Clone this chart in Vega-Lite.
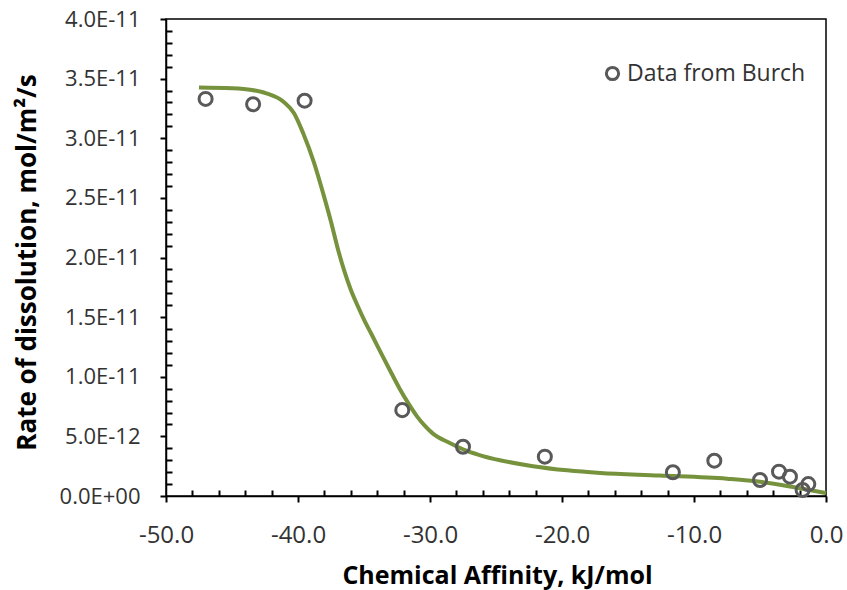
{
  "$schema": "https://vega.github.io/schema/vega-lite/v6.json",
  "width": 660,
  "height": 477,
  "autosize": "none",
  "padding": {"left": 166, "top": 19, "right": 21, "bottom": 94},
  "background": "white",
  "config": {
    "font": "Open Sans",
    "view": {"stroke": "black", "strokeWidth": 1.5},
    "axis": {"grid": false, "domainColor": "black", "domainWidth": 1.5, "tickColor": "black", "tickWidth": 2, "labelColor": "#333333", "titleColor": "black", "titleFont": "Open Sans", "titleFontWeight": "bold"}
  },
  "datasets": {
    "fit": [
      {"affinity": -47.5, "rate": 3.425e-11},
      {"affinity": -45.0, "rate": 3.419e-11},
      {"affinity": -43.5, "rate": 3.405e-11},
      {"affinity": -42.4, "rate": 3.377e-11},
      {"affinity": -41.1, "rate": 3.307e-11},
      {"affinity": -40.3, "rate": 3.21e-11},
      {"affinity": -39.6, "rate": 3.04e-11},
      {"affinity": -38.8, "rate": 2.8e-11},
      {"affinity": -38.1, "rate": 2.54e-11},
      {"affinity": -37.5, "rate": 2.3e-11},
      {"affinity": -37.0, "rate": 2.08e-11},
      {"affinity": -36.5, "rate": 1.89e-11},
      {"affinity": -36.0, "rate": 1.73e-11},
      {"affinity": -35.5, "rate": 1.6e-11},
      {"affinity": -35.0, "rate": 1.48e-11},
      {"affinity": -34.4, "rate": 1.35e-11},
      {"affinity": -33.6, "rate": 1.175e-11},
      {"affinity": -32.9, "rate": 1.025e-11},
      {"affinity": -32.3, "rate": 9.0e-12},
      {"affinity": -31.6, "rate": 7.7e-12},
      {"affinity": -31.0, "rate": 6.7e-12},
      {"affinity": -30.4, "rate": 5.9e-12},
      {"affinity": -29.8, "rate": 5.25e-12},
      {"affinity": -28.5, "rate": 4.45e-12},
      {"affinity": -27.2, "rate": 3.78e-12},
      {"affinity": -26.0, "rate": 3.35e-12},
      {"affinity": -24.7, "rate": 3.0e-12},
      {"affinity": -22.2, "rate": 2.5e-12},
      {"affinity": -19.6, "rate": 2.15e-12},
      {"affinity": -17.1, "rate": 1.93e-12},
      {"affinity": -12.6, "rate": 1.72e-12},
      {"affinity": -7.5, "rate": 1.45e-12},
      {"affinity": -5.0, "rate": 1.2e-12},
      {"affinity": -2.5, "rate": 7.5e-13},
      {"affinity": 0.0, "rate": 2.5e-13}
    ],
    "burch": [
      {"affinity": -47.0, "rate": 3.33e-11, "series": "Data from Burch"},
      {"affinity": -43.4, "rate": 3.285e-11, "series": "Data from Burch"},
      {"affinity": -39.5, "rate": 3.315e-11, "series": "Data from Burch"},
      {"affinity": -32.1, "rate": 7.2e-12, "series": "Data from Burch"},
      {"affinity": -27.5, "rate": 4.13e-12, "series": "Data from Burch"},
      {"affinity": -21.3, "rate": 3.3e-12, "series": "Data from Burch"},
      {"affinity": -11.6, "rate": 1.99e-12, "series": "Data from Burch"},
      {"affinity": -8.46, "rate": 2.96e-12, "series": "Data from Burch"},
      {"affinity": -5.0, "rate": 1.34e-12, "series": "Data from Burch"},
      {"affinity": -3.56, "rate": 2.04e-12, "series": "Data from Burch"},
      {"affinity": -2.73, "rate": 1.62e-12, "series": "Data from Burch"},
      {"affinity": -1.34, "rate": 1.0e-12, "series": "Data from Burch"},
      {"affinity": -1.77, "rate": 5.0e-13, "series": "Data from Burch"}
    ]
  },
  "encoding": {
    "x": {
      "field": "affinity", "type": "quantitative",
      "scale": {"domain": [-50, 0], "nice": false, "zero": false},
      "axis": {
        "title": "Chemical Affinity, kJ/mol",
        "values": [-50,-48,-46,-44,-42,-40,-38,-36,-34,-32,-30,-28,-26,-24,-22,-20,-18,-16,-14,-12,-10,-8,-6,-4,-2,0],
        "labelExpr": "datum.value % 10 === 0 ? (datum.value < 0 ? '-' : '') + format(abs(datum.value), '.1f') : ''",
        "tickSize": {"condition": {"test": "datum.value % 10 === 0", "value": 6}, "value": -6},
        "labelPadding": 40,
        "labelBaseline": "alphabetic",
        "labelFontSize": 24,
        "labelFlush": false,
        "labelOverlap": false,
        "titleFontSize": 25,
        "titleX": 331,
        "titleY": 87,
        "titleBaseline": "alphabetic",
        "titleAlign": "center"
      }
    },
    "y": {
      "field": "rate", "type": "quantitative",
      "scale": {"domain": [0, 4e-11], "nice": false},
      "axis": {
        "title": "Rate of dissolution, mol/m²/s",
        "values": [0,1e-12,2e-12,3e-12,4e-12,5e-12,6e-12,7e-12,8e-12,9e-12,1e-11,1.1e-11,1.2e-11,1.3e-11,1.4e-11,1.5e-11,1.6e-11,1.7e-11,1.8e-11,1.9e-11,2e-11,2.1e-11,2.2e-11,2.3e-11,2.4e-11,2.5e-11,2.6e-11,2.7e-11,2.8e-11,2.9e-11,3e-11,3.1e-11,3.2e-11,3.3e-11,3.4e-11,3.5e-11,3.6e-11,3.7e-11,3.8e-11,3.9e-11,4e-11],
        "labelExpr": "round(datum.value * 1e12) % 5 === 0 ? (datum.value === 0 ? '0.0E+00' : upper(format(datum.value, '.1e'))) : ''",
        "tickSize": {"condition": {"test": "round(datum.value * 1e12) % 5 === 0", "value": 6}, "value": -6},
        "labelPadding": 20,
        "labelFontSize": 22,
        "labelFlush": false,
        "labelOverlap": false,
        "titleFontSize": 26,
        "titleAngle": -90,
        "titleX": -139,
        "titleY": 243,
        "titleBaseline": "middle",
        "titleAlign": "center"
      }
    }
  },
  "layer": [
    {
      "data": {"name": "fit"},
      "mark": {"type": "line", "color": "#76923C", "strokeWidth": 4, "interpolate": "monotone"}
    },
    {
      "data": {"name": "burch"},
      "mark": {"type": "point", "shape": "circle", "filled": false, "size": 170, "strokeWidth": 3, "opacity": 1},
      "encoding": {
        "color": {
          "field": "series", "type": "nominal",
          "scale": {"range": ["#595959"]},
          "legend": {
            "title": null,
            "orient": "none",
            "legendX": 435,
            "legendY": 43,
            "padding": 0,
            "symbolType": "circle",
            "symbolFillColor": "transparent",
            "symbolStrokeWidth": 3,
            "symbolSize": 150,
            "labelFontSize": 23,
            "labelLimit": 400,
            "labelColor": "#333333",
            "labelOffset": 3,
            "labelFont": "Open Sans"
          }
        }
      }
    }
  ]
}
